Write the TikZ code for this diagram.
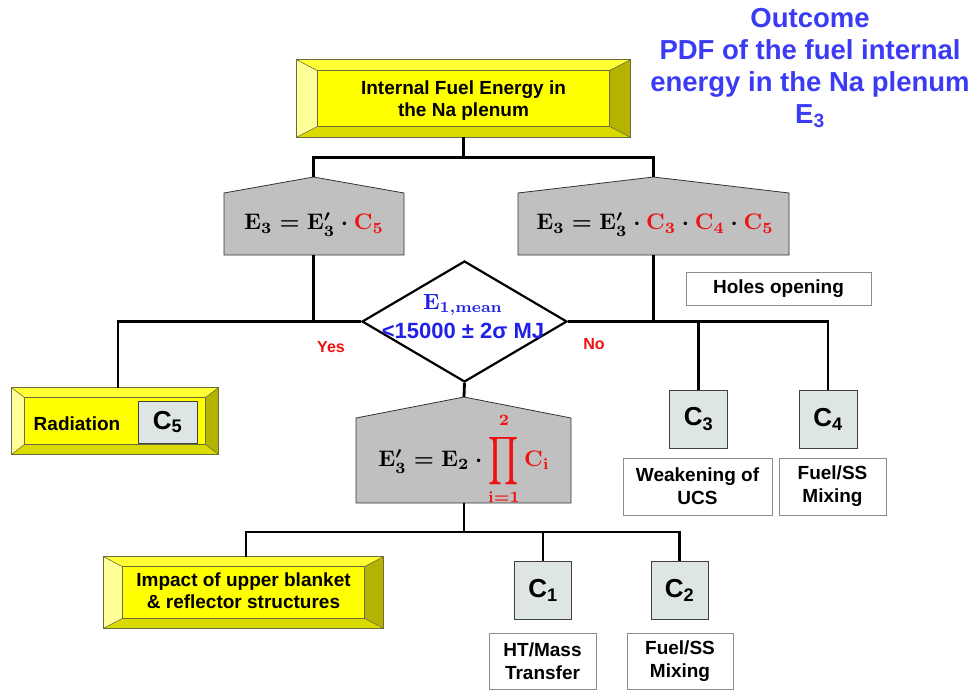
\documentclass[tikz,border=0pt]{standalone}
\usepackage[no-math]{fontspec}
\setmainfont{Liberation Sans}
\usepackage{graphicx}
\usetikzlibrary{calc,shapes.geometric}
\definecolor{bvface}{HTML}{FFFF00}
\definecolor{bvtopc}{HTML}{FFFF33}
\definecolor{bvleftc}{HTML}{FFFF99}
\definecolor{bvrightc}{HTML}{B3B300}
\definecolor{bvbotc}{HTML}{DADA00}
\definecolor{bvedge}{HTML}{6B6B40}
\definecolor{pentgray}{HTML}{C0C0C0}
\definecolor{cfill}{HTML}{DDE5E5}
\definecolor{outblue}{HTML}{3B3BF5}
\definecolor{diablue}{HTML}{2020E6}
\definecolor{myred}{HTML}{F01010}
\newcommand\bevelit[3]{%
  \coordinate (#1-inw) at ($(#1.north west)+(#2,#3)$);
  \coordinate (#1-ine) at ($(#1.north east)+(-#2,#3)$);
  \coordinate (#1-ise) at ($(#1.south east)+(-#2,-#3)$);
  \coordinate (#1-isw) at ($(#1.south west)+(#2,-#3)$);
  \fill[bvtopc] (#1.north west) -- (#1.north east) -- (#1-ine) -- (#1-inw) -- cycle;
  \fill[bvrightc] (#1.north east) -- (#1.south east) -- (#1-ise) -- (#1-ine) -- cycle;
  \fill[bvbotc] (#1.south east) -- (#1.south west) -- (#1-isw) -- (#1-ise) -- cycle;
  \fill[bvleftc] (#1.south west) -- (#1.north west) -- (#1-inw) -- (#1-isw) -- cycle;
  \draw[bvedge, line width=0.8pt] (#1-inw) -- (#1-ine) -- (#1-ise) -- (#1-isw) -- cycle;
  \draw[bvedge, line width=0.6pt] (#1.north west) -- (#1-inw) (#1.north east) -- (#1-ine)
     (#1.south east) -- (#1-ise) (#1.south west) -- (#1-isw);
  \draw[bvedge, line width=0.8pt] (#1.north west) rectangle (#1.south east);
}
\newcommand\bfE{\mathbf{E}}
\newcommand\bfC{\mathbf{C}}
\newcommand\rC[1]{\textcolor{myred}{\bfC_{\mathbf{#1}}}}
\newcommand\eqLtext{\scalebox{2.25}{\boldmath$\bfE_{\mathbf{3}}=\bfE^{\prime}_{\mathbf{3}}\cdot\rC{5}$}}
\newcommand\eqRtext{\scalebox{2.25}{\boldmath$\bfE_{\mathbf{3}}=\bfE^{\prime}_{\mathbf{3}}\cdot\rC{3}\cdot\rC{4}\cdot\rC{5}$}}
\newcommand\bigprod{\mathop{\vcenter{\hbox{\scalebox{1.05}[1.5]{$\displaystyle\prod$}}}}}
\newcommand\eqDtext{\scalebox{2.25}{\boldmath$\bfE^{\prime}_{\mathbf{3}}=\bfE_{\mathbf{2}}\cdot\textcolor{myred}{\bigprod\limits_{\mathbf{i=1}}^{\raisebox{1.6pt}{$\scriptstyle\mathbf{2}$}}\bfC_{\mathbf{i}}}$}}
\newcommand\diaonetext{\scalebox{2.2}{\boldmath$\bfE_{\mathbf{1,mean}}$}}
\tikzset{
  conn/.style={line width=2.8pt, black},
  ybox/.style={fill=bvface, inner sep=0pt},
  ylabel/.style={font=\fontsize{19}{22}\selectfont\bfseries, align=center},
  pent/.style={fill=pentgray, draw=black!80, line width=0.8pt},
  eqtext/.style={inner sep=0pt},
  cbox/.style={fill=cfill, draw=black!75, line width=0.9pt, minimum width=58pt, minimum height=58pt, inner sep=0pt, font=\fontsize{26}{30}\selectfont\bfseries},
  desc/.style={fill=white, draw=black!45, line width=0.9pt, inner sep=0pt, align=center, font=\fontsize{19}{23}\selectfont\bfseries},
  dia/.style={diamond, draw=black, line width=2.2pt, fill=white, inner sep=0pt, minimum width=205pt, minimum height=121pt},
  diatxt/.style={text=diablue, inner sep=0pt},
  yn/.style={text=myred, font=\fontsize{16}{18}\selectfont\bfseries},
  outcome/.style={text=outblue, align=center, font=\fontsize{27.5}{32}\selectfont\bfseries}
}
\begin{document}
\begin{tikzpicture}[x=1pt,y=-1pt]
\useasboundingbox (0,0) rectangle (974,691);

% outcome text
\node[outcome] (out) at (810,68) {Outcome\\PDF of the fuel internal\\energy in the Na plenum\\E\textsubscript{3}};

% top box
\node[ybox, minimum width=333pt, minimum height=77pt] (top) at (463.5,98.5) {};
\bevelit{top}{21}{11}
\node[ylabel] (toptxt) at ($(top.center)+(0,2)$) {Internal Fuel Energy in\\the Na plenum};

% pentagons
\coordinate (pLa) at (313.5,177);
\coordinate (pLb) at (313.5,255);
\draw[pent] (224,193) -- (pLa) -- (404,193) -- (404,255) -- (224,255) -- cycle;
\node[eqtext] (eqL) at (314,225) {\eqLtext};

\coordinate (pRa) at (653.5,177);
\coordinate (pRb) at (653.5,255);
\draw[pent] (518,193) -- (pRa) -- (789,193) -- (789,255) -- (518,255) -- cycle;
\node[eqtext] (eqR) at (655,225) {\eqRtext};

\coordinate (pDa) at (464,397);
\coordinate (pDb) at (464,503);
\draw[pent] (356,418) -- (pDa) -- (571,418) -- (571,503) -- (356,503) -- cycle;
\node[eqtext] (eqD) at (464,459) {\eqDtext};

% diamond
\node[dia] (dia) at (464.5,321.5) {};
\node[diatxt] (diat1) at (463,305) {\diaonetext};
\node[diatxt, font=\fontsize{22}{24}\selectfont\bfseries] (diat2) at (463,331) {<15000 ± 2σ MJ};

% yes / no
\node[yn] (yes) at (331,347) {Yes};
\node[yn] (no) at (594,344) {No};

% holes opening
\node[desc, minimum width=185pt, minimum height=33pt] (holes) at (778.5,288.5) {Holes opening};

% radiation
\node[ybox, minimum width=206pt, minimum height=66pt] (rad) at (115,421) {};
\bevelit{rad}{13}{10}
\node[ylabel] (radtxt) at (77,424) {Radiation};
\node[cbox, minimum width=59pt, minimum height=42pt] (c5) at (167.5,422) {C\textsubscript{5}};

% C boxes
\node[cbox] (c3) at (698.5,419) {C\textsubscript{3}};
\node[cbox] (c4) at (828,419) {C\textsubscript{4}};
\node[cbox, minimum width=57pt] (c1) at (543,590) {C\textsubscript{1}};
\node[cbox, minimum width=57pt] (c2) at (679.5,590) {C\textsubscript{2}};

% description boxes
\node[desc, minimum width=149pt, minimum height=57pt] (weak) at (697.5,486.5) {Weakening of\\UCS};
\node[desc, minimum width=107pt, minimum height=57pt] (fss1) at (832.5,486.5) {Fuel/SS\\Mixing};
\node[desc, minimum width=107pt, minimum height=56pt] (ht) at (542.5,661) {HT/Mass\\Transfer};
\node[desc, minimum width=106pt, minimum height=56pt] (fss2) at (680,661) {Fuel/SS\\Mixing};

% impact box
\node[ybox, minimum width=279pt, minimum height=71pt] (imp) at (243.5,592.5) {};
\bevelit{imp}{19}{10}
\node[ylabel] (imptxt) at ($(imp.center)+(0,-2)$) {Impact of upper blanket\\\& reflector structures};

% connectors
\coordinate (j1) at ($(top.south)+(0,20)$);
\draw[conn] (top.south) -- (j1);
\draw[conn] (pLa) -- (pLa |- j1) -- (pRa |- j1) -- (pRa);
\draw[conn] (pLb) -- (pLb |- dia.west);
\draw[conn] (pRb) -- (pRb |- dia.east);
\draw[conn] (dia.west) -| ($(rad.north)+(3,0)$);
\draw[conn] (dia.east) -- (c4 |- dia.east) -- (c4.north);
\draw[conn] (c3.north) -- (c3 |- dia.east);
\draw[conn] (dia.south) -- (pDa);
\coordinate (j2) at (464,532);
\draw[conn] (pDb) -- (j2);
\draw[conn] ($(imp.north)+(2.5,0)$) -- ($(imp.north |- j2)+(2.5,0)$) -- (c2 |- j2) -- (c2.north);
\draw[conn] (c1.north) -- (c1 |- j2);
\end{tikzpicture}
\end{document}
